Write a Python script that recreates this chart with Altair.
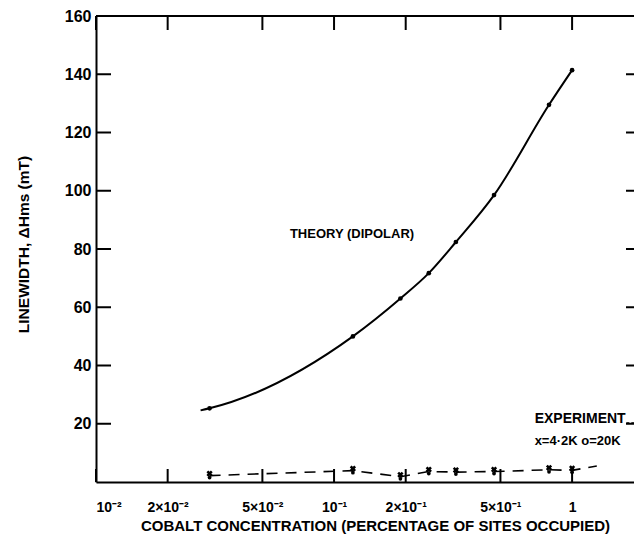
import math
import altair as alt
import pandas as pd

# ---- data ----
conc = [0.03, 0.12, 0.19, 0.25, 0.325, 0.47, 0.8, 1.0]
theory = [25.3, 50.0, 63.0, 71.7, 82.4, 98.5, 129.5, 141.4]
experiment = [2.2, 3.9, 1.8, 3.6, 3.4, 3.6, 4.2, 4.0]

curve_conc = [0.0275, 0.03, 0.12, 0.19, 0.25, 0.325, 0.47, 0.8, 1.0]
curve_theory = [24.6, 25.3, 50.0, 63.0, 71.7, 82.4, 98.5, 129.5, 141.4]

exp_line_conc = [0.03, 0.12, 0.19, 0.25, 0.325, 0.47, 0.8, 1.0, 1.27]
exp_line_val = [2.2, 3.9, 1.8, 3.6, 3.4, 3.6, 4.2, 4.0, 5.5]

x_ticks = [0.01, 0.02, 0.05, 0.1, 0.2, 0.5, 1]
y_ticks = [20, 40, 60, 80, 100, 120, 140, 160]

W, H = 538, 466
XDOM = [0.01, 1.82]
YDOM = [0, 160]
FONT = "Liberation Sans"
PPU = H / (YDOM[1] - YDOM[0])                      # pixels per y unit
PPD = W / math.log10(XDOM[1] / XDOM[0])            # pixels per decade

xs = alt.Scale(type="log", domain=XDOM, nice=False)
ys = alt.Scale(domain=YDOM, nice=False)

df_pts = pd.DataFrame({"c": conc, "t": theory, "e": experiment})
df_curve = pd.DataFrame({"c": curve_conc, "t": curve_theory})
df_exp = pd.DataFrame({"c": exp_line_conc, "e": exp_line_val})

# inward frame ticks as short two-point line segments (lengths in pixels -> data units)
rows = []
for i, c in enumerate(x_ticks):
    rows += [{"k": f"b{i}", "c": c, "y": YDOM[0]}, {"k": f"b{i}", "c": c, "y": YDOM[0] + 13 / PPU}]
    rows += [{"k": f"t{i}", "c": c, "y": YDOM[1]}, {"k": f"t{i}", "c": c, "y": YDOM[1] - 14 / PPU}]
for i, v in enumerate(y_ticks):
    rows += [{"k": f"l{i}", "c": XDOM[0], "y": v}, {"k": f"l{i}", "c": XDOM[0] * 10 ** (15 / PPD), "y": v}]
    rows += [{"k": f"r{i}", "c": XDOM[1] * 10 ** (-8 / PPD), "y": v}, {"k": f"r{i}", "c": XDOM[1], "y": v}]
df_ticks = pd.DataFrame(rows)

label_expr = ("datum.value < 0.015 ? '10⁻²' : datum.value < 0.03 ? '2×10⁻²' : "
              "datum.value < 0.07 ? '5×10⁻²' : datum.value < 0.15 ? '10⁻¹' : "
              "datum.value < 0.3 ? '2×10⁻¹' : datum.value < 0.7 ? '5×10⁻¹' : '1'")

x_axis = alt.Axis(
    values=x_ticks, labelExpr=label_expr, ticks=False, grid=False,
    domainColor="black", domainWidth=2, labelFont=FONT, labelFontWeight="bold",
    labelFontSize=14, labelColor="black", labelPadding=18,
    title="COBALT CONCENTRATION (PERCENTAGE OF SITES OCCUPIED)",
    titleFont=FONT, titleFontWeight="bold", titleFontSize=15, titleColor="black",
    titleX=279, titleY=43, titleBaseline="middle", titleAnchor="middle")

y_axis = alt.Axis(
    values=y_ticks, ticks=False, grid=False, domainColor="black", domainWidth=2,
    labelFont=FONT, labelFontWeight="bold", labelFontSize=16, labelColor="black",
    labelPadding=5, title="LINEWIDTH, ΔHms (mT)", titleFont=FONT,
    titleFontWeight="bold", titleFontSize=15.5, titleColor="black",
    titleX=-73, titleY=228, titleAngle=-90, titleBaseline="middle", titleAnchor="middle")

curve = alt.Chart(df_curve).mark_line(color="black", strokeWidth=2, interpolate="monotone").encode(
    x=alt.X("c:Q", scale=xs, axis=x_axis), y=alt.Y("t:Q", scale=ys, axis=y_axis))

frame_ticks = alt.Chart(df_ticks).mark_line(color="black", strokeWidth=2).encode(
    x=alt.X("c:Q", scale=xs), y=alt.Y("y:Q", scale=ys), detail="k:N")

top_border = alt.Chart(df_pts).mark_rule(color="black", strokeWidth=2).encode(
    x=alt.value(0), x2=alt.value(W), y=alt.value(0))

dots = alt.Chart(df_pts).mark_circle(color="black", size=22, opacity=1).encode(
    x=alt.X("c:Q", scale=xs), y=alt.Y("t:Q", scale=ys))

exp_line = alt.Chart(df_exp).mark_line(color="black", strokeWidth=1.6, strokeDash=[11, 8]).encode(
    x=alt.X("c:Q", scale=xs), y=alt.Y("e:Q", scale=ys))

exp_x = alt.Chart(df_pts).mark_point(shape="cross", angle=45, color="black", filled=True, size=40, opacity=1, yOffset=-2).encode(
    x=alt.X("c:Q", scale=xs), y=alt.Y("e:Q", scale=ys))
exp_o = alt.Chart(df_pts).mark_point(shape="circle", color="black", filled=True, size=14, opacity=1, yOffset=2).encode(
    x=alt.X("c:Q", scale=xs), y=alt.Y("e:Q", scale=ys))

# annotations
ann_df = pd.DataFrame({
    "c": [0.119, 0.696, 0.696],
    "v": [85, 21.6, 14.0],
    "txt": ["THEORY (DIPOLAR)", "EXPERIMENT", "x=4·2K  o=20K"],
    "key": ["a", "b", "c"],
})
ann_center = alt.Chart(ann_df).transform_filter("datum.key == 'a'").mark_text(
    font=FONT, fontWeight="bold", fontSize=13, color="black", align="center", baseline="middle").encode(
    x=alt.X("c:Q", scale=xs), y=alt.Y("v:Q", scale=ys), text="txt:N")
ann_exp = alt.Chart(ann_df).transform_filter("datum.key == 'b'").mark_text(
    font=FONT, fontWeight="bold", fontSize=14, color="black", align="left", baseline="middle").encode(
    x=alt.X("c:Q", scale=xs), y=alt.Y("v:Q", scale=ys), text="txt:N")
ann_temp = alt.Chart(ann_df).transform_filter("datum.key == 'c'").mark_text(
    font=FONT, fontWeight="bold", fontSize=13, color="black", align="left", baseline="middle").encode(
    x=alt.X("c:Q", scale=xs), y=alt.Y("v:Q", scale=ys), text="txt:N")

leg_df = pd.DataFrame({"c": [1.69, 1.82], "v": [20.3, 20.3]})
leg_dash = alt.Chart(leg_df).mark_line(color="black", strokeWidth=1.5, strokeDash=[3, 2]).encode(
    x=alt.X("c:Q", scale=xs), y=alt.Y("v:Q", scale=ys))

chart = alt.layer(
    curve, frame_ticks, top_border,
    dots, exp_line, exp_x, exp_o, ann_center, ann_exp, ann_temp, leg_dash
).properties(
    width=W, height=H, background="white",
    autosize=alt.AutoSizeParams(type="none"),
    padding={"left": 88, "top": 8, "right": 0, "bottom": 54},
).configure_view(stroke="transparent")

chart.save("out.html", embed_options={"renderer": "svg", "actions": False})
